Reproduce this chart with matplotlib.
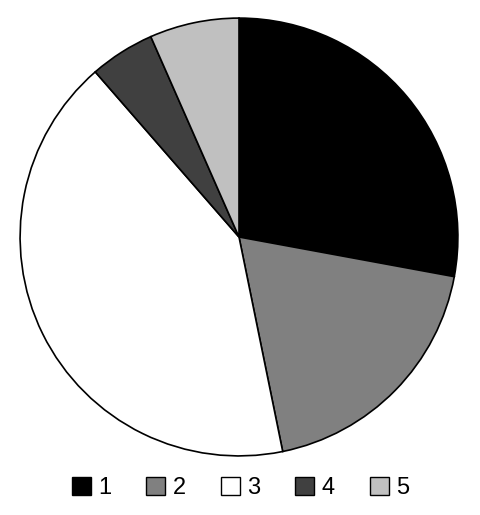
import matplotlib.pyplot as plt
from matplotlib.patches import Patch

plt.rcParams["font.family"] = ["Liberation Sans", "DejaVu Sans"]

labels = ["1", "2", "3", "4", "5"]
values = [27.9, 18.9, 41.8, 4.8, 6.6]
colors = ["#000000", "#808080", "#ffffff", "#404040", "#c0c0c0"]

fig = plt.figure(figsize=(4.81, 5.15), dpi=100)
ax = fig.add_axes([19 / 481, 58 / 515, 440 / 481, 440 / 515])
ax.pie(values, colors=colors, startangle=90, counterclock=False,
       wedgeprops={"edgecolor": "black", "linewidth": 1.2})
ax.set_xlim(-1.005, 1.005)
ax.set_ylim(-1.005, 1.005)
ax.set_aspect("equal")

handles = [Patch(facecolor=c, edgecolor="black", linewidth=1) for c in colors]
fig.legend(handles, labels, loc="lower center", ncol=5, frameon=False,
           fontsize=17, handlelength=0.8, handleheight=0.8, handletextpad=0.3,
           columnspacing=1.5, bbox_to_anchor=(0.5, -0.01))

fig.savefig("out.png", dpi=100)
